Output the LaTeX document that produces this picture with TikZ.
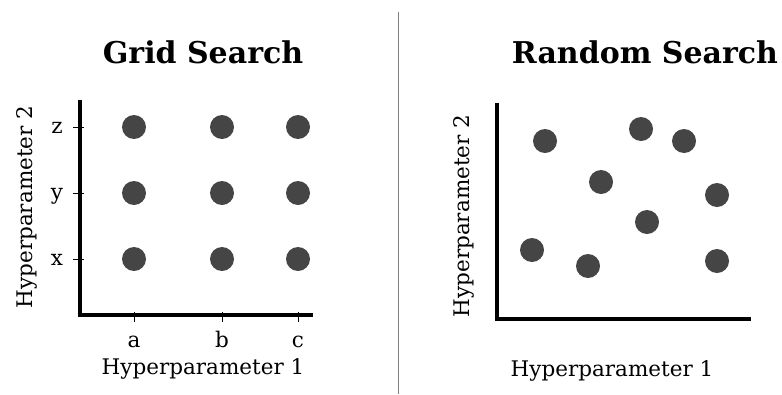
\documentclass[tikz,border=0pt]{standalone}
\usepackage{fontspec}
\setmainfont{DejaVu Serif}
\usetikzlibrary{positioning}
\colorlet{DotGray}{black!73}

\begin{document}
\begin{tikzpicture}[x=1pt,y=-1pt,
    dot/.style={circle,fill=DotGray,minimum size=24pt,inner sep=0pt},
    axis/.style={line width=3.5pt,line join=miter},
    tick/.style={line width=1pt},
    lbl/.style={inner sep=0pt,font=\fontsize{21.5}{23}\selectfont},
    ttl/.style={inner sep=0pt,font=\fontsize{30}{32}\selectfont\bfseries}]
    \useasboundingbox (0,0) rectangle (782,394);

    % divider between the two panels
    \draw[gray,line width=1pt] (398,12) -- (398,394);

    % left panel: grid search
    \node[ttl] (gridtitle) at (203,52) {Grid Search};
    \coordinate (gorigin) at (80,315);
    \coordinate (gtop) at (80,100);
    \coordinate (gright) at (313,315);
    \draw[axis] (gtop) -- (gorigin) -- (gright);
    \foreach[count=\i] \v/\yy in {x/259,y/193,z/127} {
        \draw[tick] (73,\yy) -- (84,\yy);
        \node[lbl,anchor=base] (gy\i) at (57,\yy+6) {\v};
    }
    \foreach[count=\i] \u/\xx in {a/134,b/222,c/298} {
        \draw[tick] (\xx,312) -- (\xx,322);
        \node[lbl,anchor=base] (gx\i) at (\xx,347) {\u};
    }
    \foreach \xx in {134,222,298}
        \foreach \yy in {127,193,259}
            \node[dot] (g-\xx-\yy) at (\xx,\yy) {};
    \node[lbl,anchor=base] (gxlabel) at (203,374) {Hyperparameter 1};
    \node[lbl,rotate=90] (gylabel) at (27,207) {Hyperparameter 2};

    % right panel: random search
    \node[ttl] (randtitle) at (645,52) {Random Search};
    \coordinate (rorigin) at (497,319);
    \coordinate (rtop) at (497,103);
    \coordinate (rright) at (751,319);
    \draw[axis] (rtop) -- (rorigin) -- (rright);
    \foreach[count=\i] \xx/\yy in {545/141,641/129,684/141,601/182,717/195,
                                   647/222,532/250,588/266,717/261}
        \node[dot] (r\i) at (\xx,\yy) {};
    \node[lbl,anchor=base] (rxlabel) at (612,376) {Hyperparameter 1};
    \node[lbl,rotate=90] (rylabel) at (464,216) {Hyperparameter 2};
\end{tikzpicture}
\end{document}
